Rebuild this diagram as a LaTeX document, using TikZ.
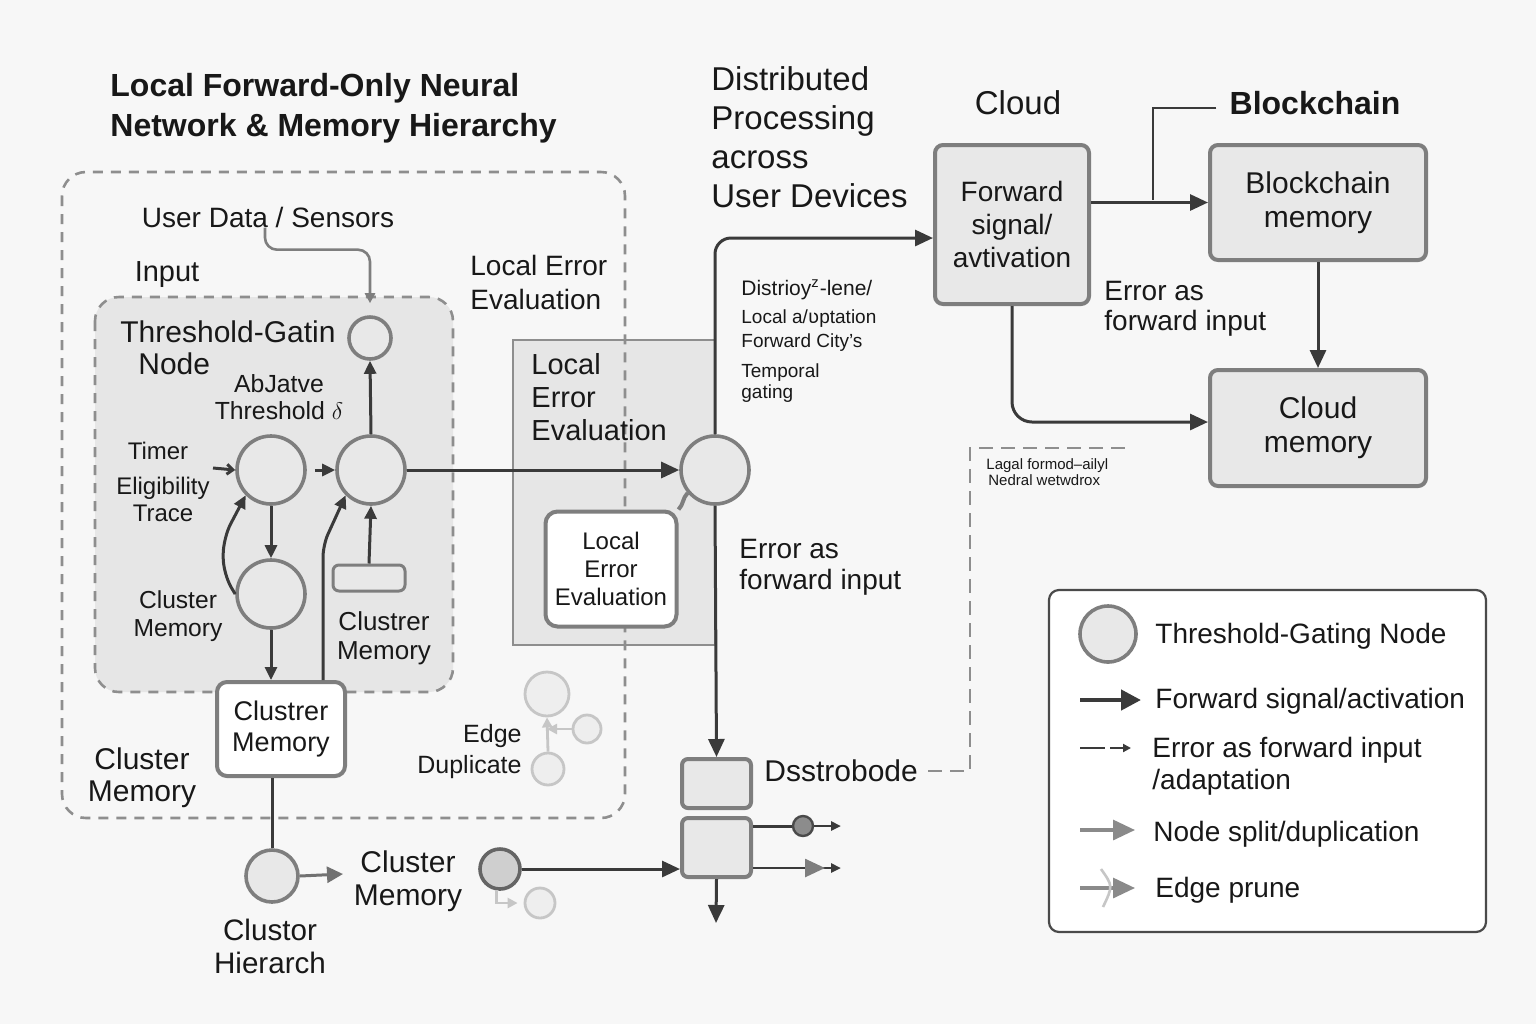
\documentclass[tikz,border=0pt]{standalone}
\usepackage{fontspec}
\setmainfont{Liberation Sans}
\newfontfamily\ipafont{DejaVu Sans}
\usetikzlibrary{positioning,arrows.meta}

\definecolor{paper}{HTML}{F7F7F7}
\definecolor{ink}{HTML}{181818}
\definecolor{wire}{HTML}{3A3A3A}
\definecolor{rim}{HTML}{7E7E7E}
\definecolor{cellfill}{HTML}{E8E8E8}
\definecolor{panelfill}{HTML}{E6E6E6}
\definecolor{dashgray}{HTML}{8E8E8E}
\definecolor{fade}{HTML}{C6C6C6}
\definecolor{fadefill}{HTML}{EEEEEE}
\definecolor{splitfill}{HTML}{CFCFCF}
\definecolor{tapfill}{HTML}{8C8C8C}
\definecolor{keyrim}{HTML}{4A4A4A}
\definecolor{keygray}{HTML}{8A8A8A}

\newcommand{\txtsize}[2]{\fontsize{#1}{#2}\selectfont}

\tikzset{
  gate/.style={circle, draw=rim, line width=1.8pt, fill=cellfill, minimum size=34pt, inner sep=0pt},
  ghost/.style={circle, draw=fade, line width=1.4pt, fill=fadefill, inner sep=0pt},
  cell/.style={draw=rim, line width=2pt, fill=cellfill, rounded corners=4pt, align=center, inner sep=2pt, text=ink},
  dashframe/.style={draw=dashgray, line width=1.3pt, dash pattern=on 5pt off 4pt, rounded corners=12pt},
  fwd/.style={draw=wire, line width=1.5pt, -{Triangle[length=9pt,width=8pt]}},
  fwdsmall/.style={draw=wire, line width=1.5pt, -{Triangle[length=6.5pt,width=6pt]}},
  feed/.style={draw=rim, line width=1.3pt, -{Triangle[length=5pt,width=5pt]}},
  faint/.style={draw=fade, line width=1.4pt, -{Triangle[length=5pt,width=5pt]}},
  lbl/.style={text=ink, inner sep=0pt, align=center},
}

\begin{document}
\begin{tikzpicture}[x=0.5pt, y=-0.5pt]
  \useasboundingbox (0,0) rectangle (1536,1024);
  \fill[paper] (0,0) rectangle (1536,1024);

  % frames
  \draw[dashframe, fill=panelfill] (95,297) rectangle (453,692);
  \draw[draw=dashgray, line width=1.2pt, fill=panelfill] (513,340) rectangle (715,645);
  \draw[dashframe] (62,172) rectangle (625,818);

  % titles
  \node[lbl, align=left, anchor=west, font=\bfseries\txtsize{16}{20}] (title) at (110,108) {Local Forward-Only Neural\\Network \& Memory Hierarchy};
  \node[lbl, align=left, anchor=west, font=\txtsize{16.5}{19.5}] (dist) at (711,137) {Distributed\\Processing\\across\\User Devices};
  \node[lbl, font=\txtsize{16.5}{20}] (cloudlbl) at (1018,103) {Cloud};
  \node[lbl, font=\bfseries\txtsize{16}{20}] (chainlbl) at (1315,103) {Blockchain};

  % local network labels
  \node[lbl, font=\txtsize{14}{17}] (sensors) at (268,217) {User Data / Sensors};
  \node[lbl, font=\txtsize{14.5}{17}] (inputlbl) at (167,275) {Input};
  \node[lbl, align=left, anchor=west, font=\txtsize{15}{16}] (tglbl) at (120,348) {Threshold-Gatin\\\hspace*{9pt}Node};
  \node[lbl, font=\txtsize{12.4}{13.5}] (adapt) at (279,397) {AbJatve\\Threshold $\delta$};
  \node[lbl, font=\txtsize{12}{14}] (timer) at (158,451) {Timer};
  \node[lbl, font=\txtsize{12}{13.5}] (elig) at (163,499) {Eligibility\\Trace};
  \node[lbl, font=\txtsize{12.3}{14}] (cmleft) at (178,616) {Cluster\\Memory};
  \node[lbl, font=\txtsize{13}{14.5}] (cmright) at (384,638) {Clustrer\\Memory};
  \node[lbl, font=\txtsize{15}{16}] (cmouter) at (142,778) {Cluster\\Memory};
  \node[lbl, font=\txtsize{14.8}{16.5}] (hier) at (270,946) {Clustor\\Hierarch};
  \node[lbl, font=\txtsize{15}{16.5}] (cmbottom) at (408,881) {Cluster\\Memory};
  \node[lbl, align=right, anchor=east, font=\txtsize{12.5}{15.5}] (edgedup) at (522,752) {Edge\\Duplicate};
  \node[lbl, align=left, anchor=west, font=\txtsize{14}{17}] (errlbl) at (470,282) {Local Error\\Evaluation};
  \node[lbl, align=left, anchor=north west, font=\txtsize{14.5}{16.5}] (paneltxt) at (531,353) {Local\\Error\\Evaluation};

  % distributed labels
  \node[lbl, anchor=west, font=\txtsize{10.5}{12}] (note1) at (741,290) {Distrioy\textsuperscript{z}-lene/};
  \node[lbl, anchor=west, font=\txtsize{9.5}{11}] (note2) at (741,319) {Local a/{\ipafont ʋ}ptation};
  \node[lbl, anchor=west, font=\txtsize{9.5}{11}] (note3) at (741,343) {Forward City's};
  \node[lbl, anchor=west, align=left, font=\txtsize{9.5}{10.5}] (note4) at (741,383) {Temporal\\gating};
  \node[lbl, align=left, anchor=west, font=\txtsize{14}{15.5}] (errmid) at (739,567) {Error as\\forward input};
  \node[lbl, align=left, anchor=west, font=\txtsize{14}{15}] (errright) at (1104,309) {Error as\\forward input};
  \node[lbl, align=left, anchor=west, font=\txtsize{7.5}{8}] (lagal) at (986,472) {Lagal formod--ailyl\\\hspace*{1pt}Nedral wetwdrox};
  \node[lbl, anchor=west, font=\txtsize{15}{17}] (dss) at (764,771) {Dsstrobode};

  % nodes
  \node[gate, minimum size=21pt] (gtop) at (370,338) {};
  \node[gate] (gin) at (271,470) {};
  \node[gate] (gmid) at (371,470) {};
  \node[gate] (gmem) at (271,594) {};
  \node[cell, minimum width=36pt, minimum height=13pt, line width=1.5pt, rounded corners=3pt] (bias) at (369,578) {};
  \node[cell, fill=white, minimum width=64pt, minimum height=47pt, rounded corners=5pt, font=\txtsize{13.5}{15.5}] (memcell) at (281,729) {Clustrer\\Memory};
  \node[gate, minimum size=26pt] (ghier) at (272,876) {};
  \node[gate, minimum size=20pt, fill=splitfill, draw=rim!80!black] (gsplit) at (500,869) {};
  \node[ghost, minimum size=22pt] (dupa) at (547,694) {};
  \node[ghost, minimum size=14pt] (dupb) at (587,729) {};
  \node[ghost, minimum size=16pt] (dupc) at (548,769) {};
  \node[ghost, minimum size=15pt] (dupd) at (540,903) {};
  \node[cell, fill=white, minimum width=65.5pt, minimum height=57.5pt, rounded corners=6pt, font=\txtsize{12}{14}] (localerr) at (611,569) {Local\\Error\\Evaluation};
  \node[gate] (hub) at (715,470) {};
  \node[cell, minimum width=34.5pt, minimum height=24.5pt, rounded corners=3pt] (distA) at (716.5,783.5) {};
  \node[cell, minimum width=34.5pt, minimum height=29.5pt, rounded corners=3pt] (distB) at (716.5,847.5) {};
  \node[circle, draw=keyrim, fill=tapfill, line width=1.2pt, minimum size=10pt, inner sep=0pt] (tap) at (803,826) {};
  \node[cell, minimum width=77pt, minimum height=79.5pt, font=\txtsize{14}{16.5}] (fwdcell) at (1012,224.5) {Forward\\signal/\\avtivation};
  \node[cell, minimum width=108pt, minimum height=57.5pt, font=\txtsize{15}{17}] (chainmem) at (1318,202.5) {Blockchain\\memory};
  \node[cell, minimum width=108pt, minimum height=58pt, font=\txtsize{15}{17}] (cloudmem) at (1318,428) {Cloud\\memory};

  \coordinate (timerin) at (213,468);
  \coordinate (hierout) at (343,874);
  \coordinate (out1) at (841,826);
  \coordinate (out2) at (841,868);
  \coordinate (outdown) at (716,923);
  \coordinate (chainjoin) at (1153,200);
  \coordinate (lagend) at (1130,448);

  % local connectors
  \draw[feed, rounded corners=6pt] ([xshift=-1.5pt]sensors.south) -- ++(0,22) -| ([yshift=6pt]gtop.north);
  \draw[draw=wire, line width=1.5pt, -{Straight Barb[length=3pt,width=5pt]}] (timerin) -- (gin.west);
  \draw[fwdsmall, shorten <=4pt] (gin.east) -- (gmid.west);
  \draw[fwdsmall] (gmid.north) -- (gtop.south);
  \draw[fwdsmall] (gin.south) -- (gmem.north);
  \draw[fwdsmall, rounded corners=8pt] (gmem.west) -- ++(-12,-20) -- ++(0,-36) -- (gin.south west);
  \draw[fwdsmall] (bias.north) -- (gmid.south);
  \draw[fwdsmall, rounded corners=6pt] ([xshift=21pt]memcell.north) -- ++(0,-135) -- (gmid.south west);
  \draw[fwdsmall] (gmem.south) -- (gmem.south |- memcell.north);
  \draw[draw=wire, line width=1.5pt] (ghier |- memcell.south) -- (ghier.north);
  \draw[draw=rim!90!black, line width=1.5pt, -{Triangle[length=8pt,width=8pt]}] (ghier.east) -- (hierout);
  \draw[faint] (dupc.north) -- (dupa.south);
  \draw[faint] (dupb.west) -- (dupb.west -| dupa);
  \draw[faint, shorten >=3pt] (gsplit.-100) |- (dupd.west);
  \draw[fwd] (gsplit.east) -- (gsplit.east -| distB.west);

  % distributed connectors
  \draw[fwd] (gmid.east) -- (hub.west);
  \draw[draw=rim, line width=2pt] (hub.-140) to[out=-135,in=45] (localerr.north east);
  \draw[fwd, rounded corners=8pt] (hub.north) |- ([yshift=-6.75pt]fwdcell.west);
  \draw[fwd] (hub.south) -- (distA.north);
  \draw[draw=wire, line width=1.5pt] (distB.east |- tap) -- (tap);
  \draw[draw=wire, line width=1.3pt, -{Triangle[length=5pt,width=4.5pt]}] (tap) -- (out1);
  \draw[draw=wire, line width=1.3pt, -{Triangle[length=10pt,width=9pt,color=rim,sep=3pt] Triangle[length=5pt,width=4.5pt]}] (distB.east |- out2) -- (out2);
  \draw[fwd] (distB.south) -- (outdown);
  \draw[draw=dashgray, line width=1.3pt, dash pattern=on 7pt off 4pt] ([xshift=5pt]dss.east) -| (970,448) -- (lagend);

  % cloud and blockchain
  \draw[fwd] (fwdcell.east |- chainmem.west) -- (chainmem.west);
  \draw[draw=wire, line width=0.9pt] ([xshift=-6.5pt,yshift=-2.5pt]chainlbl.west) -| (chainjoin);
  \draw[fwd] (chainmem.south) -- (cloudmem.north);
  \draw[fwd, rounded corners=10pt] (fwdcell.south) |- ([yshift=3pt]cloudmem.west);

  % legend
  \node[draw=keyrim, line width=1.1pt, fill=white, rounded corners=5pt, minimum width=218.5pt, minimum height=171pt] (legend) at (1267.5,761) {};
  \node[gate, minimum size=28pt] (keygate) at (1108,634) {};
  \node[lbl, anchor=west, font=\txtsize{14}{16}] (key1) at (1155,636) {Threshold-Gating Node};
  \node[lbl, anchor=west, font=\txtsize{14}{16}] (key2) at (1155,701) {Forward signal/activation};
  \node[lbl, anchor=west, align=left, font=\txtsize{14}{16}] (key3) at (1152,766) {Error as forward input\\/adaptation};
  \node[lbl, anchor=west, font=\txtsize{14}{16}] (key4) at (1153,834) {Node split/duplication};
  \node[lbl, anchor=west, font=\txtsize{14}{16}] (key5) at (1155,890) {Edge prune};
  \coordinate (k2a) at (1080,700); \coordinate (k2b) at (1141,700);
  \coordinate (k3a) at (1080,748); \coordinate (k3b) at (1105,748);
  \coordinate (k3c) at (1110,748); \coordinate (k3d) at (1131,748);
  \coordinate (k4a) at (1080,830); \coordinate (k4b) at (1135,830);
  \coordinate (k5a) at (1080,888); \coordinate (k5b) at (1135,888);
  \draw[draw=wire, line width=2.2pt, -{Triangle[length=10pt,width=10pt]}] (k2a) -- (k2b);
  \draw[draw=wire, line width=1pt] (k3a) -- (k3b);
  \draw[draw=wire, line width=1pt, -{Triangle[length=4pt,width=4pt]}] (k3c) -- (k3d);
  \draw[draw=keygray, line width=1.6pt, -{Triangle[length=11pt,width=10pt]}] (k4a) -- (k4b);
  \draw[draw=keygray, line width=1.6pt, -{Triangle[length=11pt,width=10pt]}] (k5a) -- (k5b);
  \draw[draw=fade, line width=1.3pt] (1101,869) .. controls (1113,886) .. (1103,907);
\end{tikzpicture}
\end{document}
